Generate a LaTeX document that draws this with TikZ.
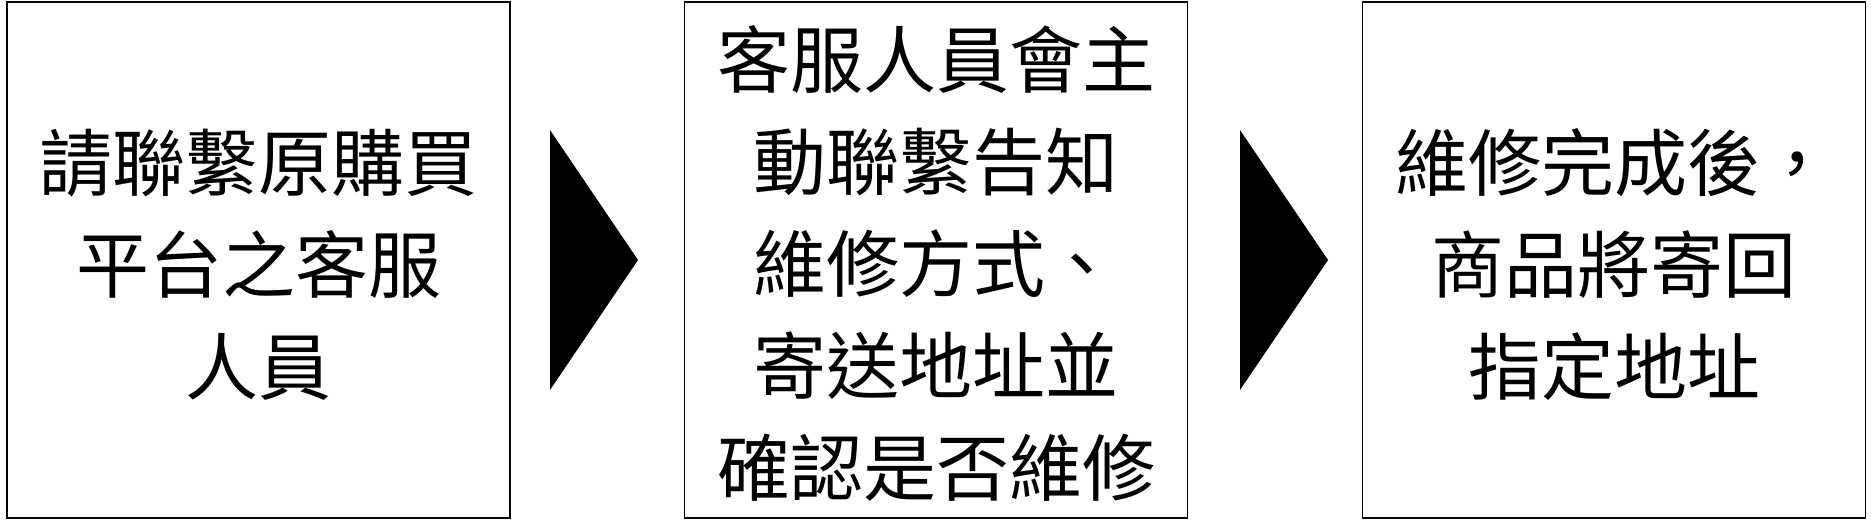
\documentclass[tikz,border=0pt]{standalone}
\usepackage{fontspec}
\setmainfont{Noto Sans CJK TC}
\begin{document}
\begin{tikzpicture}[x=1pt,y=-1pt,
  stepbox/.style={draw=black,line width=1.5pt,fill=white,inner sep=0pt,
    minimum width=503pt,minimum height=516pt},
  steptext/.style={align=center,inner sep=0pt,
    font=\fontsize{73}{102}\selectfont},
  chevron/.style={fill=black,draw=none}]
\useasboundingbox (0,0) rectangle (1872,520);
\fill[white] (0,0) rectangle (1872,520);
\node[stepbox] (b1) at (258.5,260) {};
\node[stepbox] (b2) at (936,260) {};
\node[stepbox] (b3) at (1614,260) {};
\node[steptext] (t1) at ([yshift=-5pt]b1.center) {請聯繫原購買\\平台之客服\\人員};
\node[steptext] (t2) at ([yshift=-3pt]b2.center) {客服人員會主\\動聯繫告知\\維修方式、\\寄送地址並\\確認是否維修};
\node[steptext] (t3) at ([yshift=-5pt]b3.center) {維修完成後，\\商品將寄回\\指定地址};
\coordinate (a1t) at (550,130);
\coordinate (a1p) at (638,260);
\coordinate (a1b) at (550,390);
\coordinate (a2t) at (1240,130);
\coordinate (a2p) at (1328,260);
\coordinate (a2b) at (1240,390);
\fill[chevron] (a1t) -- (a1p) -- (a1b) -- cycle;
\fill[chevron] (a2t) -- (a2p) -- (a2b) -- cycle;
\end{tikzpicture}
\end{document}
